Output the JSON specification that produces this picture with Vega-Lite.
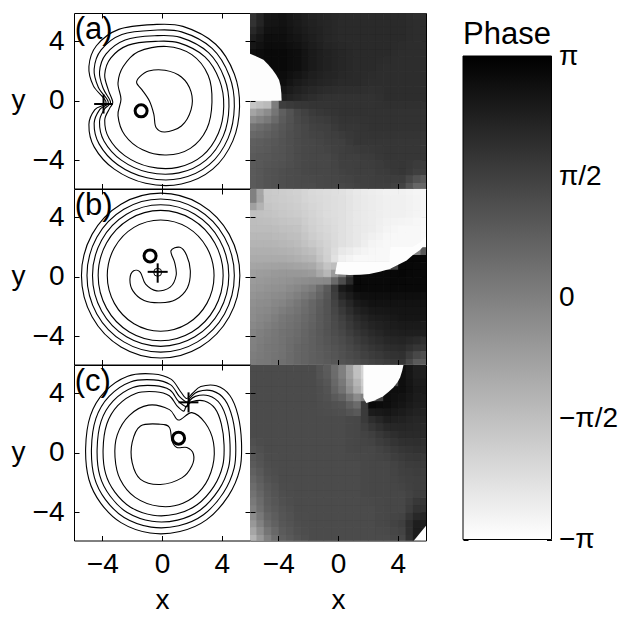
{
"$schema":"https://vega.github.io/schema/vega-lite/v6.json",
"background":"white",
"padding":{"left":10,"top":12,"right":0,"bottom":0},
"config":{
 "font":"Liberation Sans",
 "view":{"stroke":"black","strokeWidth":1},
 "axis":{"grid":false,"domain":false,"ticks":true,"tickColor":"black","tickSize":-5,"tickWidth":1,"labelFontSize":28,"labelColor":"black","labelPadding":15,"titleFontSize":28,"titleFontWeight":"normal","titleColor":"black","titlePadding":8}
},
"datasets":{
"ha":[
{"x":-6,"y":5,"v":1.9},{"x":-5,"y":5,"v":2.6},{"x":-4,"y":5,"v":2.7},{"x":-3,"y":5,"v":2.5},{"x":-2,"y":5,"v":2.3},{"x":-1,"y":5,"v":2.2},{"x":0,"y":5,"v":2.1},{"x":1,"y":5,"v":2.1},{"x":2,"y":5,"v":2.1},{"x":3,"y":5,"v":2.1},{"x":4,"y":5,"v":2.1},{"x":5,"y":5,"v":2.0},
{"x":-6,"y":4,"v":2.4},{"x":-5,"y":4,"v":2.8},{"x":-4,"y":4,"v":2.8},{"x":-3,"y":4,"v":2.6},{"x":-2,"y":4,"v":2.4},{"x":-1,"y":4,"v":2.2},{"x":0,"y":4,"v":2.1},{"x":1,"y":4,"v":2.1},{"x":2,"y":4,"v":2.1},{"x":3,"y":4,"v":2.1},{"x":4,"y":4,"v":2.1},{"x":5,"y":4,"v":2.0},
{"x":-6,"y":3,"v":2.8},{"x":-5,"y":3,"v":2.9},{"x":-4,"y":3,"v":2.9},{"x":-3,"y":3,"v":2.8},{"x":-2,"y":3,"v":2.5},{"x":-1,"y":3,"v":2.3},{"x":0,"y":3,"v":2.2},{"x":1,"y":3,"v":2.1},{"x":2,"y":3,"v":2.1},{"x":3,"y":3,"v":2.1},{"x":4,"y":3,"v":2.0},{"x":5,"y":3,"v":2.0},
{"x":-6,"y":2,"v":2.9},{"x":-5,"y":2,"v":2.9},{"x":-4,"y":2,"v":2.9},{"x":-3,"y":2,"v":2.8},{"x":-2,"y":2,"v":2.5},{"x":-1,"y":2,"v":2.3},{"x":0,"y":2,"v":2.2},{"x":1,"y":2,"v":2.1},{"x":2,"y":2,"v":2.1},{"x":3,"y":2,"v":2.0},{"x":4,"y":2,"v":2.0},{"x":5,"y":2,"v":2.0},
{"x":-6,"y":1,"v":-3.0},{"x":-5,"y":1,"v":2.8},{"x":-4,"y":1,"v":2.8},{"x":-3,"y":1,"v":2.5},{"x":-2,"y":1,"v":2.3},{"x":-1,"y":1,"v":2.2},{"x":0,"y":1,"v":2.1},{"x":1,"y":1,"v":2.1},{"x":2,"y":1,"v":2.0},{"x":3,"y":1,"v":2.0},{"x":4,"y":1,"v":2.0},{"x":5,"y":1,"v":2.0},
{"x":-6,"y":0,"v":-2.6},{"x":-5,"y":0,"v":-2.6},{"x":-4,"y":0,"v":2.4},{"x":-3,"y":0,"v":2.2},{"x":-2,"y":0,"v":2.0},{"x":-1,"y":0,"v":1.9},{"x":0,"y":0,"v":1.9},{"x":1,"y":0,"v":1.9},{"x":2,"y":0,"v":1.9},{"x":3,"y":0,"v":2.0},{"x":4,"y":0,"v":2.0},{"x":5,"y":0,"v":2.0},
{"x":-6,"y":-1,"v":-0.9},{"x":-5,"y":-1,"v":-0.3},{"x":-4,"y":-1,"v":0.8},{"x":-3,"y":-1,"v":1.4},{"x":-2,"y":-1,"v":1.7},{"x":-1,"y":-1,"v":1.8},{"x":0,"y":-1,"v":1.9},{"x":1,"y":-1,"v":1.9},{"x":2,"y":-1,"v":1.9},{"x":3,"y":-1,"v":1.9},{"x":4,"y":-1,"v":1.9},{"x":5,"y":-1,"v":1.9},
{"x":-6,"y":-2,"v":0.3},{"x":-5,"y":-2,"v":0.6},{"x":-4,"y":-2,"v":1.0},{"x":-3,"y":-2,"v":1.3},{"x":-2,"y":-2,"v":1.5},{"x":-1,"y":-2,"v":1.6},{"x":0,"y":-2,"v":1.8},{"x":1,"y":-2,"v":1.8},{"x":2,"y":-2,"v":1.9},{"x":3,"y":-2,"v":1.9},{"x":4,"y":-2,"v":1.9},{"x":5,"y":-2,"v":1.9},
{"x":-6,"y":-3,"v":0.8},{"x":-5,"y":-3,"v":0.9},{"x":-4,"y":-3,"v":1.1},{"x":-3,"y":-3,"v":1.3},{"x":-2,"y":-3,"v":1.4},{"x":-1,"y":-3,"v":1.5},{"x":0,"y":-3,"v":1.6},{"x":1,"y":-3,"v":1.8},{"x":2,"y":-3,"v":1.8},{"x":3,"y":-3,"v":1.8},{"x":4,"y":-3,"v":1.8},{"x":5,"y":-3,"v":1.8},
{"x":-6,"y":-4,"v":0.9},{"x":-5,"y":-4,"v":1.0},{"x":-4,"y":-4,"v":1.1},{"x":-3,"y":-4,"v":1.3},{"x":-2,"y":-4,"v":1.4},{"x":-1,"y":-4,"v":1.4},{"x":0,"y":-4,"v":1.6},{"x":1,"y":-4,"v":1.6},{"x":2,"y":-4,"v":1.7},{"x":3,"y":-4,"v":1.8},{"x":4,"y":-4,"v":1.8},{"x":5,"y":-4,"v":1.8},
{"x":-6,"y":-5,"v":0.9},{"x":-5,"y":-5,"v":1.1},{"x":-4,"y":-5,"v":1.2},{"x":-3,"y":-5,"v":1.3},{"x":-2,"y":-5,"v":1.4},{"x":-1,"y":-5,"v":1.4},{"x":0,"y":-5,"v":1.5},{"x":1,"y":-5,"v":1.6},{"x":2,"y":-5,"v":1.6},{"x":3,"y":-5,"v":1.7},{"x":4,"y":-5,"v":1.8},{"x":5,"y":-5,"v":1.6},
{"x":-6,"y":-6,"v":0.9},{"x":-5,"y":-6,"v":1.1},{"x":-4,"y":-6,"v":1.2},{"x":-3,"y":-6,"v":1.3},{"x":-2,"y":-6,"v":1.3},{"x":-1,"y":-6,"v":1.4},{"x":0,"y":-6,"v":1.4},{"x":1,"y":-6,"v":1.5},{"x":2,"y":-6,"v":1.6},{"x":3,"y":-6,"v":1.6},{"x":4,"y":-6,"v":1.5},{"x":5,"y":-6,"v":0.6}
],
"hb":[
{"x":-6,"y":5,"v":0.0},{"x":-5,"y":5,"v":-1.8},{"x":-4,"y":5,"v":-1.9},{"x":-3,"y":5,"v":-2.0},{"x":-2,"y":5,"v":-2.2},{"x":-1,"y":5,"v":-2.3},{"x":0,"y":5,"v":-2.4},{"x":1,"y":5,"v":-2.6},{"x":2,"y":5,"v":-2.7},{"x":3,"y":5,"v":-2.8},{"x":4,"y":5,"v":-2.8},{"x":5,"y":5,"v":-2.9},
{"x":-6,"y":4,"v":-1.6},{"x":-5,"y":4,"v":-1.7},{"x":-4,"y":4,"v":-1.8},{"x":-3,"y":4,"v":-1.9},{"x":-2,"y":4,"v":-2.1},{"x":-1,"y":4,"v":-2.3},{"x":0,"y":4,"v":-2.4},{"x":1,"y":4,"v":-2.6},{"x":2,"y":4,"v":-2.7},{"x":3,"y":4,"v":-2.8},{"x":4,"y":4,"v":-2.8},{"x":5,"y":4,"v":-2.9},
{"x":-6,"y":3,"v":-1.5},{"x":-5,"y":3,"v":-1.5},{"x":-4,"y":3,"v":-1.6},{"x":-3,"y":3,"v":-1.7},{"x":-2,"y":3,"v":-2.0},{"x":-1,"y":3,"v":-2.2},{"x":0,"y":3,"v":-2.4},{"x":1,"y":3,"v":-2.6},{"x":2,"y":3,"v":-2.7},{"x":3,"y":3,"v":-2.9},{"x":4,"y":3,"v":-3.0},{"x":5,"y":3,"v":-3.0},
{"x":-6,"y":2,"v":-1.3},{"x":-5,"y":2,"v":-1.3},{"x":-4,"y":2,"v":-1.4},{"x":-3,"y":2,"v":-1.5},{"x":-2,"y":2,"v":-1.8},{"x":-1,"y":2,"v":-2.1},{"x":0,"y":2,"v":-2.4},{"x":1,"y":2,"v":-2.6},{"x":2,"y":2,"v":-2.9},{"x":3,"y":2,"v":-3.0},{"x":4,"y":2,"v":-3.0},{"x":5,"y":2,"v":-3.0},
{"x":-6,"y":1,"v":-1.1},{"x":-5,"y":1,"v":-1.1},{"x":-4,"y":1,"v":-1.1},{"x":-3,"y":1,"v":-1.2},{"x":-2,"y":1,"v":-1.4},{"x":-1,"y":1,"v":-2.0},{"x":0,"y":1,"v":-2.8},{"x":1,"y":1,"v":-3.0},{"x":2,"y":1,"v":-3.0},{"x":3,"y":1,"v":-3.0},{"x":4,"y":1,"v":3.0},{"x":5,"y":1,"v":3.0},
{"x":-6,"y":0,"v":-0.8},{"x":-5,"y":0,"v":-0.7},{"x":-4,"y":0,"v":-0.6},{"x":-3,"y":0,"v":-0.6},{"x":-2,"y":0,"v":-0.7},{"x":-1,"y":0,"v":-1.4},{"x":0,"y":0,"v":0.0},{"x":1,"y":0,"v":3.0},{"x":2,"y":0,"v":2.9},{"x":3,"y":0,"v":2.9},{"x":4,"y":0,"v":3.0},{"x":5,"y":0,"v":2.9},
{"x":-6,"y":-1,"v":-0.6},{"x":-5,"y":-1,"v":-0.5},{"x":-4,"y":-1,"v":-0.4},{"x":-3,"y":-1,"v":-0.2},{"x":-2,"y":-1,"v":0.1},{"x":-1,"y":-1,"v":0.9},{"x":0,"y":-1,"v":2.5},{"x":1,"y":-1,"v":2.9},{"x":2,"y":-1,"v":2.9},{"x":3,"y":-1,"v":2.9},{"x":4,"y":-1,"v":2.9},{"x":5,"y":-1,"v":2.9},
{"x":-6,"y":-2,"v":-0.4},{"x":-5,"y":-2,"v":-0.3},{"x":-4,"y":-2,"v":-0.1},{"x":-3,"y":-2,"v":0.2},{"x":-2,"y":-2,"v":0.6},{"x":-1,"y":-2,"v":1.1},{"x":0,"y":-2,"v":1.9},{"x":1,"y":-2,"v":2.5},{"x":2,"y":-2,"v":2.7},{"x":3,"y":-2,"v":2.7},{"x":4,"y":-2,"v":2.7},{"x":5,"y":-2,"v":2.7},
{"x":-6,"y":-3,"v":-0.3},{"x":-5,"y":-3,"v":-0.1},{"x":-4,"y":-3,"v":0.2},{"x":-3,"y":-3,"v":0.4},{"x":-2,"y":-3,"v":0.7},{"x":-1,"y":-3,"v":1.1},{"x":0,"y":-3,"v":1.6},{"x":1,"y":-3,"v":2.1},{"x":2,"y":-3,"v":2.4},{"x":3,"y":-3,"v":2.5},{"x":4,"y":-3,"v":2.6},{"x":5,"y":-3,"v":2.6},
{"x":-6,"y":-4,"v":-0.1},{"x":-5,"y":-4,"v":0.1},{"x":-4,"y":-4,"v":0.3},{"x":-3,"y":-4,"v":0.5},{"x":-2,"y":-4,"v":0.8},{"x":-1,"y":-4,"v":1.1},{"x":0,"y":-4,"v":1.4},{"x":1,"y":-4,"v":1.8},{"x":2,"y":-4,"v":2.1},{"x":3,"y":-4,"v":2.3},{"x":4,"y":-4,"v":2.4},{"x":5,"y":-4,"v":2.4},
{"x":-6,"y":-5,"v":0.0},{"x":-5,"y":-5,"v":0.2},{"x":-4,"y":-5,"v":0.3},{"x":-3,"y":-5,"v":0.6},{"x":-2,"y":-5,"v":0.8},{"x":-1,"y":-5,"v":1.0},{"x":0,"y":-5,"v":1.2},{"x":1,"y":-5,"v":1.5},{"x":2,"y":-5,"v":1.8},{"x":3,"y":-5,"v":2.0},{"x":4,"y":-5,"v":2.1},{"x":5,"y":-5,"v":1.8},
{"x":-6,"y":-6,"v":0.1},{"x":-5,"y":-6,"v":0.2},{"x":-4,"y":-6,"v":0.4},{"x":-3,"y":-6,"v":0.6},{"x":-2,"y":-6,"v":0.8},{"x":-1,"y":-6,"v":0.9},{"x":0,"y":-6,"v":1.1},{"x":1,"y":-6,"v":1.3},{"x":2,"y":-6,"v":1.5},{"x":3,"y":-6,"v":1.7},{"x":4,"y":-6,"v":1.8},{"x":5,"y":-6,"v":0.9}
],
"hc":[
{"x":-6,"y":5,"v":1.3},{"x":-5,"y":5,"v":1.3},{"x":-4,"y":5,"v":1.3},{"x":-3,"y":5,"v":1.3},{"x":-2,"y":5,"v":1.3},{"x":-1,"y":5,"v":0.9},{"x":0,"y":5,"v":0.0},{"x":1,"y":5,"v":-1.6},{"x":2,"y":5,"v":-2.6},{"x":3,"y":5,"v":-3.0},{"x":4,"y":5,"v":2.8},{"x":5,"y":5,"v":2.4},
{"x":-6,"y":4,"v":1.3},{"x":-5,"y":4,"v":1.3},{"x":-4,"y":4,"v":1.3},{"x":-3,"y":4,"v":1.3},{"x":-2,"y":4,"v":1.3},{"x":-1,"y":4,"v":1.1},{"x":0,"y":4,"v":0.3},{"x":1,"y":4,"v":-1.1},{"x":2,"y":4,"v":-2.4},{"x":3,"y":4,"v":2.8},{"x":4,"y":4,"v":2.8},{"x":5,"y":4,"v":2.5},
{"x":-6,"y":3,"v":1.3},{"x":-5,"y":3,"v":1.3},{"x":-4,"y":3,"v":1.3},{"x":-3,"y":3,"v":1.3},{"x":-2,"y":3,"v":1.3},{"x":-1,"y":3,"v":1.2},{"x":0,"y":3,"v":1.1},{"x":1,"y":3,"v":0.5},{"x":2,"y":3,"v":2.9},{"x":3,"y":3,"v":2.8},{"x":4,"y":3,"v":2.6},{"x":5,"y":3,"v":2.4},
{"x":-6,"y":2,"v":1.3},{"x":-5,"y":2,"v":1.3},{"x":-4,"y":2,"v":1.3},{"x":-3,"y":2,"v":1.3},{"x":-2,"y":2,"v":1.3},{"x":-1,"y":2,"v":1.3},{"x":0,"y":2,"v":1.3},{"x":1,"y":2,"v":1.4},{"x":2,"y":2,"v":2.0},{"x":3,"y":2,"v":2.4},{"x":4,"y":2,"v":2.3},{"x":5,"y":2,"v":2.2},
{"x":-6,"y":1,"v":1.3},{"x":-5,"y":1,"v":1.3},{"x":-4,"y":1,"v":1.3},{"x":-3,"y":1,"v":1.3},{"x":-2,"y":1,"v":1.3},{"x":-1,"y":1,"v":1.3},{"x":0,"y":1,"v":1.3},{"x":1,"y":1,"v":1.4},{"x":2,"y":1,"v":1.6},{"x":3,"y":1,"v":1.9},{"x":4,"y":1,"v":2.1},{"x":5,"y":1,"v":2.1},
{"x":-6,"y":0,"v":1.1},{"x":-5,"y":0,"v":1.3},{"x":-4,"y":0,"v":1.3},{"x":-3,"y":0,"v":1.3},{"x":-2,"y":0,"v":1.3},{"x":-1,"y":0,"v":1.3},{"x":0,"y":0,"v":1.3},{"x":1,"y":0,"v":1.4},{"x":2,"y":0,"v":1.4},{"x":3,"y":0,"v":1.6},{"x":4,"y":0,"v":1.8},{"x":5,"y":0,"v":1.9},
{"x":-6,"y":-1,"v":0.9},{"x":-5,"y":-1,"v":1.2},{"x":-4,"y":-1,"v":1.3},{"x":-3,"y":-1,"v":1.3},{"x":-2,"y":-1,"v":1.3},{"x":-1,"y":-1,"v":1.3},{"x":0,"y":-1,"v":1.3},{"x":1,"y":-1,"v":1.3},{"x":2,"y":-1,"v":1.4},{"x":3,"y":-1,"v":1.4},{"x":4,"y":-1,"v":1.6},{"x":5,"y":-1,"v":1.7},
{"x":-6,"y":-2,"v":0.6},{"x":-5,"y":-2,"v":1.1},{"x":-4,"y":-2,"v":1.3},{"x":-3,"y":-2,"v":1.3},{"x":-2,"y":-2,"v":1.3},{"x":-1,"y":-2,"v":1.3},{"x":0,"y":-2,"v":1.3},{"x":1,"y":-2,"v":1.3},{"x":2,"y":-2,"v":1.4},{"x":3,"y":-2,"v":1.4},{"x":4,"y":-2,"v":1.5},{"x":5,"y":-2,"v":1.6},
{"x":-6,"y":-3,"v":0.3},{"x":-5,"y":-3,"v":0.9},{"x":-4,"y":-3,"v":1.2},{"x":-3,"y":-3,"v":1.3},{"x":-2,"y":-3,"v":1.3},{"x":-1,"y":-3,"v":1.3},{"x":0,"y":-3,"v":1.3},{"x":1,"y":-3,"v":1.3},{"x":2,"y":-3,"v":1.4},{"x":3,"y":-3,"v":1.4},{"x":4,"y":-3,"v":1.4},{"x":5,"y":-3,"v":1.6},
{"x":-6,"y":-4,"v":0.0},{"x":-5,"y":-4,"v":0.8},{"x":-4,"y":-4,"v":1.1},{"x":-3,"y":-4,"v":1.3},{"x":-2,"y":-4,"v":1.3},{"x":-1,"y":-4,"v":1.3},{"x":0,"y":-4,"v":1.3},{"x":1,"y":-4,"v":1.3},{"x":2,"y":-4,"v":1.3},{"x":3,"y":-4,"v":1.4},{"x":4,"y":-4,"v":1.4},{"x":5,"y":-4,"v":1.9},
{"x":-6,"y":-5,"v":-0.6},{"x":-5,"y":-5,"v":0.5},{"x":-4,"y":-5,"v":1.0},{"x":-3,"y":-5,"v":1.2},{"x":-2,"y":-5,"v":1.3},{"x":-1,"y":-5,"v":1.3},{"x":0,"y":-5,"v":1.3},{"x":1,"y":-5,"v":1.3},{"x":2,"y":-5,"v":1.3},{"x":3,"y":-5,"v":1.4},{"x":4,"y":-5,"v":1.6},{"x":5,"y":-5,"v":2.4},
{"x":-6,"y":-6,"v":-1.3},{"x":-5,"y":-6,"v":0.0},{"x":-4,"y":-6,"v":0.8},{"x":-3,"y":-6,"v":1.1},{"x":-2,"y":-6,"v":1.3},{"x":-1,"y":-6,"v":1.3},{"x":0,"y":-6,"v":1.3},{"x":1,"y":-6,"v":1.3},{"x":2,"y":-6,"v":1.3},{"x":3,"y":-6,"v":1.3},{"x":4,"y":-6,"v":1.4},{"x":5,"y":-6,"v":2.5}
],
"pa":[
{"s":1,"x":-6,"y":3.2,"y2":0,"v":-3.1},{"s":1,"x":-5.5,"y":3.0,"y2":0,"v":-3.1},{"s":1,"x":-5.0,"y":2.75,"y2":0,"v":-3.1},{"s":1,"x":-4.7,"y":2.45,"y2":0,"v":-3.1},{"s":1,"x":-4.4,"y":2.1,"y2":0,"v":-3.1},{"s":1,"x":-4.15,"y":1.75,"y2":0,"v":-3.1},{"s":1,"x":-3.95,"y":1.4,"y2":0,"v":-3.1},{"s":1,"x":-3.85,"y":1.0,"y2":0,"v":-3.1},{"s":1,"x":-3.8,"y":0.5,"y2":0,"v":-3.1},{"s":1,"x":-3.78,"y":0.0,"y2":0,"v":-3.1}
],
"pb":[
{"s":1,"x":-0.2,"y":0.2,"y2":0.2,"v":-3.1},{"s":1,"x":-0.05,"y":1.0,"y2":0.17,"v":-3.1},{"s":1,"x":0.75,"y":1.0,"y2":0.11,"v":-3.1},{"s":1,"x":1.5,"y":1.0,"y2":0.13,"v":-3.1},{"s":1,"x":2.1,"y":1.0,"y2":0.18,"v":-3.1},{"s":1,"x":2.8,"y":1.0,"y2":0.33,"v":-3.1},{"s":1,"x":3.45,"y":1.0,"y2":0.52,"v":-3.1},{"s":1,"x":3.5,"y":2.0,"y2":0.53,"v":-3.1},{"s":1,"x":4.0,"y":2.0,"y2":0.79,"v":-3.1},{"s":1,"x":4.6,"y":2.0,"y2":1.1,"v":-3.1},{"s":1,"x":5.0,"y":2.0,"y2":1.45,"v":-3.1},{"s":1,"x":5.5,"y":2.3,"y2":1.8,"v":-3.1},{"s":1,"x":6.0,"y":2.8,"y2":2.37,"v":-3.1}
],
"pc":[
{"s":1,"x":1.7,"y":5.95,"y2":3.7,"v":-3.1},{"s":1,"x":1.9,"y":5.95,"y2":3.35,"v":-3.1},{"s":1,"x":2.4,"y":5.95,"y2":3.5,"v":-3.1},{"s":1,"x":3.03,"y":5.95,"y2":3.8,"v":-3.1},{"s":1,"x":3.4,"y":5.95,"y2":4.1,"v":-3.1},{"s":1,"x":3.71,"y":5.95,"y2":4.38,"v":-3.1},{"s":1,"x":4.0,"y":5.95,"y2":4.75,"v":-3.1},{"s":1,"x":4.17,"y":5.95,"y2":5.07,"v":-3.1},{"s":1,"x":4.3,"y":5.95,"y2":5.5,"v":-3.1},{"s":1,"x":4.4,"y":5.95,"y2":5.95,"v":-3.1},
{"s":2,"x":5.05,"y":-5.95,"y2":-5.95,"v":-3.1},{"s":2,"x":5.95,"y":-4.85,"y2":-5.95,"v":-3.1}
],
"ca":[
{"k":1,"x":-3.75,"y":-0.1},{"k":1,"x":-4.6,"y":1.0},{"k":1,"x":-4.9,"y":2.3},{"k":1,"x":-4.4,"y":3.7},{"k":1,"x":-2.9,"y":4.8},{"k":1,"x":-0.6,"y":5.12},{"k":1,"x":1.4,"y":5.0},{"k":1,"x":3.6,"y":3.8},{"k":1,"x":4.85,"y":1.8},{"k":1,"x":5.2,"y":-0.4},{"k":1,"x":4.75,"y":-2.7},{"k":1,"x":3.4,"y":-4.6},{"k":1,"x":1.3,"y":-5.6},{"k":1,"x":-1.1,"y":-5.55},{"k":1,"x":-3.2,"y":-4.6},{"k":1,"x":-4.55,"y":-3.1},{"k":1,"x":-4.9,"y":-1.6},{"k":1,"x":-4.5,"y":-0.6},
{"k":2,"x":-3.6,"y":-0.1},{"k":2,"x":-4.27,"y":0.91},{"k":2,"x":-4.55,"y":2.12},{"k":2,"x":-4.08,"y":3.42},{"k":2,"x":-2.69,"y":4.45},{"k":2,"x":-0.55,"y":4.74},{"k":2,"x":1.31,"y":4.63},{"k":2,"x":3.36,"y":3.52},{"k":2,"x":4.52,"y":1.66},{"k":2,"x":4.85,"y":-0.39},{"k":2,"x":4.43,"y":-2.53},{"k":2,"x":3.17,"y":-4.3},{"k":2,"x":1.22,"y":-5.23},{"k":2,"x":-1.01,"y":-5.18},{"k":2,"x":-2.97,"y":-4.3},{"k":2,"x":-4.22,"y":-2.9},{"k":2,"x":-4.55,"y":-1.51},{"k":2,"x":-4.17,"y":-0.58},
{"k":3,"x":-3.45,"y":-0.1},{"k":3,"x":-3.94,"y":0.82},{"k":3,"x":-4.19,"y":1.94},{"k":3,"x":-3.76,"y":3.14},{"k":3,"x":-2.47,"y":4.09},{"k":3,"x":-0.5,"y":4.37},{"k":3,"x":1.23,"y":4.26},{"k":3,"x":3.12,"y":3.23},{"k":3,"x":4.19,"y":1.51},{"k":3,"x":4.49,"y":-0.38},{"k":3,"x":4.11,"y":-2.36},{"k":3,"x":2.95,"y":-3.99},{"k":3,"x":1.14,"y":-4.85},{"k":3,"x":-0.93,"y":-4.81},{"k":3,"x":-2.73,"y":-3.99},{"k":3,"x":-3.89,"y":-2.7},{"k":3,"x":-4.19,"y":-1.41},{"k":3,"x":-3.85,"y":-0.55},
{"k":4,"x":-3.3,"y":-0.1},{"k":4,"x":-3.6,"y":0.73},{"k":4,"x":-3.84,"y":1.76},{"k":4,"x":-3.44,"y":2.87},{"k":4,"x":-2.26,"y":3.74},{"k":4,"x":-0.44,"y":3.99},{"k":4,"x":1.14,"y":3.89},{"k":4,"x":2.88,"y":2.95},{"k":4,"x":3.86,"y":1.37},{"k":4,"x":4.14,"y":-0.37},{"k":4,"x":3.78,"y":-2.19},{"k":4,"x":2.72,"y":-3.69},{"k":4,"x":1.06,"y":-4.48},{"k":4,"x":-0.84,"y":-4.44},{"k":4,"x":-2.5,"y":-3.69},{"k":4,"x":-3.56,"y":-2.51},{"k":4,"x":-3.84,"y":-1.32},{"k":4,"x":-3.52,"y":-0.53},
{"k":5,"x":-2.75,"y":0.1},{"k":5,"x":-2.95,"y":1.2},{"k":5,"x":-2.6,"y":2.3},{"k":5,"x":-1.6,"y":3.3},{"k":5,"x":0.3,"y":3.65},{"k":5,"x":2.0,"y":3.1},{"k":5,"x":3.1,"y":1.7},{"k":5,"x":3.35,"y":-0.1},{"k":5,"x":3.0,"y":-1.9},{"k":5,"x":1.9,"y":-3.2},{"k":5,"x":0.3,"y":-3.65},{"k":5,"x":-1.3,"y":-3.3},{"k":5,"x":-2.5,"y":-2.3},{"k":5,"x":-2.95,"y":-1.0},
{"k":6,"x":-1.5,"y":1.6},{"k":6,"x":-0.9,"y":2.0},{"k":6,"x":0.2,"y":2.05},{"k":6,"x":1.3,"y":1.6},{"k":6,"x":1.95,"y":0.6},{"k":6,"x":1.95,"y":-0.6},{"k":6,"x":1.3,"y":-1.7},{"k":6,"x":0.2,"y":-2.1},{"k":6,"x":-0.4,"y":-1.8},{"k":6,"x":-0.55,"y":-0.9},{"k":6,"x":-0.85,"y":0.0},{"k":6,"x":-1.35,"y":0.75},{"k":6,"x":-1.7,"y":1.2}
],
"cb":[
{"k":1,"x":5.22,"y":0.08},{"k":1,"x":4.51,"y":2.85},{"k":1,"x":2.57,"y":4.88},{"k":1,"x":-0.09,"y":5.62},{"k":1,"x":-2.75,"y":4.88},{"k":1,"x":-4.69,"y":2.85},{"k":1,"x":-5.4,"y":0.08},{"k":1,"x":-4.69,"y":-2.69},{"k":1,"x":-2.75,"y":-4.72},{"k":1,"x":-0.09,"y":-5.46},{"k":1,"x":2.57,"y":-4.72},{"k":1,"x":4.51,"y":-2.69},
{"k":2,"x":4.85,"y":0.08},{"k":2,"x":4.19,"y":2.66},{"k":2,"x":2.38,"y":4.54},{"k":2,"x":-0.09,"y":5.23},{"k":2,"x":-2.56,"y":4.54},{"k":2,"x":-4.37,"y":2.66},{"k":2,"x":-5.03,"y":0.08},{"k":2,"x":-4.37,"y":-2.5},{"k":2,"x":-2.56,"y":-4.38},{"k":2,"x":-0.09,"y":-5.07},{"k":2,"x":2.38,"y":-4.38},{"k":2,"x":4.19,"y":-2.5},
{"k":3,"x":4.48,"y":0.08},{"k":3,"x":3.87,"y":2.46},{"k":3,"x":2.2,"y":4.2},{"k":3,"x":-0.09,"y":4.84},{"k":3,"x":-2.38,"y":4.2},{"k":3,"x":-4.05,"y":2.46},{"k":3,"x":-4.66,"y":0.08},{"k":3,"x":-4.05,"y":-2.3},{"k":3,"x":-2.38,"y":-4.04},{"k":3,"x":-0.09,"y":-4.68},{"k":3,"x":2.2,"y":-4.04},{"k":3,"x":3.87,"y":-2.3},
{"k":4,"x":4.1,"y":0.08},{"k":4,"x":3.54,"y":2.27},{"k":4,"x":2.01,"y":3.87},{"k":4,"x":-0.09,"y":4.46},{"k":4,"x":-2.19,"y":3.87},{"k":4,"x":-3.72,"y":2.27},{"k":4,"x":-4.28,"y":0.08},{"k":4,"x":-3.72,"y":-2.11},{"k":4,"x":-2.19,"y":-3.71},{"k":4,"x":-0.09,"y":-4.3},{"k":4,"x":2.01,"y":-3.71},{"k":4,"x":3.54,"y":-2.11},
{"k":5,"x":3.49,"y":0.08},{"k":5,"x":3.01,"y":1.95},{"k":5,"x":1.7,"y":3.32},{"k":5,"x":-0.09,"y":3.82},{"k":5,"x":-1.88,"y":3.32},{"k":5,"x":-3.19,"y":1.95},{"k":5,"x":-3.67,"y":0.08},{"k":5,"x":-3.19,"y":-1.79},{"k":5,"x":-1.88,"y":-3.16},{"k":5,"x":-0.09,"y":-3.66},{"k":5,"x":1.7,"y":-3.16},{"k":5,"x":3.01,"y":-1.79},
{"k":6,"x":0.6,"y":1.75},{"k":6,"x":1.2,"y":1.98},{"k":6,"x":1.65,"y":1.45},{"k":6,"x":1.9,"y":0.4},{"k":6,"x":1.7,"y":-0.75},{"k":6,"x":0.9,"y":-1.55},{"k":6,"x":-0.1,"y":-1.75},{"k":6,"x":-1.2,"y":-1.6},{"k":6,"x":-1.95,"y":-0.95},{"k":6,"x":-2.15,"y":-0.15},{"k":6,"x":-1.9,"y":0.4},{"k":6,"x":-1.45,"y":0.3},{"k":6,"x":-1.1,"y":-0.5},{"k":6,"x":-0.35,"y":-0.95},{"k":6,"x":0.55,"y":-0.7},{"k":6,"x":0.95,"y":0.1},{"k":6,"x":0.85,"y":0.95}
],
"cc":[
{"k":1,"x":1.65,"y":3.65},{"k":1,"x":1.25,"y":4.1},{"k":1,"x":0.6,"y":4.95},{"k":1,"x":-0.6,"y":5.3},{"k":1,"x":-2.3,"y":5.15},{"k":1,"x":-3.85,"y":4.1},{"k":1,"x":-4.8,"y":2.5},{"k":1,"x":-5.12,"y":0.3},{"k":1,"x":-4.9,"y":-1.8},{"k":1,"x":-4.1,"y":-3.4},{"k":1,"x":-2.75,"y":-4.7},{"k":1,"x":-0.8,"y":-5.4},{"k":1,"x":1.2,"y":-5.3},{"k":1,"x":3.0,"y":-4.5},{"k":1,"x":4.45,"y":-2.9},{"k":1,"x":5.22,"y":-1.1},{"k":1,"x":5.33,"y":0.7},{"k":1,"x":5.1,"y":2.5},{"k":1,"x":4.55,"y":3.85},{"k":1,"x":3.65,"y":4.5},{"k":1,"x":2.6,"y":4.45},{"k":1,"x":2.05,"y":4.0},
{"k":2,"x":1.7,"y":3.4},{"k":2,"x":1.16,"y":3.79},{"k":2,"x":0.56,"y":4.58},{"k":2,"x":-0.55,"y":4.9},{"k":2,"x":-2.12,"y":4.76},{"k":2,"x":-3.55,"y":3.79},{"k":2,"x":-4.43,"y":2.31},{"k":2,"x":-4.73,"y":0.27},{"k":2,"x":-4.53,"y":-1.67},{"k":2,"x":-3.79,"y":-3.15},{"k":2,"x":-2.54,"y":-4.35},{"k":2,"x":-0.73,"y":-5.0},{"k":2,"x":1.12,"y":-4.91},{"k":2,"x":2.78,"y":-4.17},{"k":2,"x":4.12,"y":-2.69},{"k":2,"x":4.84,"y":-1.02},{"k":2,"x":4.94,"y":0.64},{"k":2,"x":4.73,"y":2.31},{"k":2,"x":4.22,"y":3.56},{"k":2,"x":3.38,"y":4.16},{"k":2,"x":2.41,"y":4.11},{"k":2,"x":1.9,"y":3.7},
{"k":3,"x":1.65,"y":3.1},{"k":3,"x":1.08,"y":3.49},{"k":3,"x":0.53,"y":4.22},{"k":3,"x":-0.5,"y":4.51},{"k":3,"x":-1.95,"y":4.39},{"k":3,"x":-3.27,"y":3.49},{"k":3,"x":-4.08,"y":2.13},{"k":3,"x":-4.35,"y":0.25},{"k":3,"x":-4.17,"y":-1.54},{"k":3,"x":-3.48,"y":-2.91},{"k":3,"x":-2.33,"y":-4.02},{"k":3,"x":-0.67,"y":-4.61},{"k":3,"x":1.04,"y":-4.53},{"k":3,"x":2.57,"y":-3.85},{"k":3,"x":3.81,"y":-2.48},{"k":3,"x":4.47,"y":-0.95},{"k":3,"x":4.56,"y":0.59},{"k":3,"x":4.37,"y":2.13},{"k":3,"x":3.9,"y":3.28},{"k":3,"x":3.13,"y":3.83},{"k":3,"x":2.23,"y":3.79},{"k":3,"x":1.76,"y":3.4},
{"k":4,"x":1.45,"y":2.8},{"k":4,"x":0.99,"y":3.17},{"k":4,"x":0.49,"y":3.83},{"k":4,"x":-0.44,"y":4.1},{"k":4,"x":-1.76,"y":3.99},{"k":4,"x":-2.97,"y":3.17},{"k":4,"x":-3.7,"y":1.93},{"k":4,"x":-3.95,"y":0.22},{"k":4,"x":-3.78,"y":-1.41},{"k":4,"x":-3.16,"y":-2.65},{"k":4,"x":-2.11,"y":-3.66},{"k":4,"x":-0.6,"y":-4.2},{"k":4,"x":0.95,"y":-4.12},{"k":4,"x":2.35,"y":-3.5},{"k":4,"x":3.48,"y":-2.26},{"k":4,"x":4.07,"y":-0.86},{"k":4,"x":4.16,"y":0.53},{"k":4,"x":3.98,"y":1.93},{"k":4,"x":3.55,"y":2.98},{"k":4,"x":2.85,"y":3.48},{"k":4,"x":2.04,"y":3.44},{"k":4,"x":1.61,"y":3.09},
{"k":5,"x":1.1,"y":2.2},{"k":5,"x":0.5,"y":2.9},{"k":5,"x":-0.9,"y":3.2},{"k":5,"x":-2.2,"y":2.5},{"k":5,"x":-3.0,"y":1.2},{"k":5,"x":-3.15,"y":-0.3},{"k":5,"x":-2.8,"y":-1.8},{"k":5,"x":-1.8,"y":-3.0},{"k":5,"x":-0.2,"y":-3.6},{"k":5,"x":1.4,"y":-3.4},{"k":5,"x":2.7,"y":-2.4},{"k":5,"x":3.4,"y":-0.9},{"k":5,"x":3.45,"y":0.7},{"k":5,"x":2.9,"y":2.0},{"k":5,"x":2.0,"y":2.7},
{"k":6,"x":-1.44,"y":1.8},{"k":6,"x":-0.11,"y":1.92},{"k":6,"x":0.5,"y":1.7},{"k":6,"x":0.67,"y":0.8},{"k":6,"x":1.0,"y":0.35},{"k":6,"x":1.67,"y":0.35},{"k":6,"x":2.11,"y":-0.1},{"k":6,"x":2.0,"y":-0.89},{"k":6,"x":1.33,"y":-1.69},{"k":6,"x":-0.11,"y":-2.13},{"k":6,"x":-1.44,"y":-1.79},{"k":6,"x":-2.0,"y":-0.67},{"k":6,"x":-2.0,"y":0.69}
],
"ma":[
{"m":"r","x":-4.55,"y":-0.22,"x2":-3.3,"y2":-0.22},{"m":"r","x":-3.92,"y":0.42,"x2":-3.92,"y2":-0.86},{"m":"o","x":-1.4,"y":-0.68},{"m":"t","x":-5.85,"y":4.15,"t":"(a)"}
],
"mb":[
{"m":"r","x":-0.96,"y":0.33,"x2":0.38,"y2":0.33},{"m":"r","x":-0.29,"y":0.9,"x2":-0.29,"y2":-0.4},{"m":"q","x":-0.29,"y":0.3},{"m":"o","x":-0.8,"y":1.4},{"m":"t","x":-5.85,"y":4.15,"t":"(b)"}
],
"mc":[
{"m":"r","x":1.11,"y":3.39,"x2":2.44,"y2":3.39},{"m":"r","x":1.78,"y":4.06,"x2":1.78,"y2":2.71},{"m":"o","x":1.11,"y":0.98},{"m":"t","x":-5.85,"y":4.15,"t":"(c)"}
]
},
"hconcat":[
{"concat":[
 {"width":176,"height":175.5,
  "layer":[
   {"encoding":{
     "x":{"field":"x","type":"quantitative","scale":{"domain":[-5.9,5.9],"nice":false,"zero":false},"axis":{"values":[-4,0,4],"labels":false,"title":null}},
     "y":{"field":"y","type":"quantitative","scale":{"domain":[-5.9,5.9],"nice":false,"zero":false},"axis":{"values":[-4,0,4],"title":"y","titleAngle":0,"titleAlign":"right","titleBaseline":"middle","titlePadding":7}}},
    "layer":[
     {"data":{"name":"ca"},"mark":{"type":"line","interpolate":"cardinal-closed","color":"black","strokeWidth":1.1},"encoding":{"detail":{"field":"k"},"order":{"value":null}}},
     {"data":{"name":"ma"},"transform":[{"filter":"datum.m=='r'"}],"mark":{"type":"rule","color":"black","strokeWidth":2},"encoding":{"x2":{"field":"x2"},"y2":{"field":"y2"}}},
     {"data":{"name":"ma"},"transform":[{"filter":"datum.m=='o'"}],"mark":{"type":"point","shape":"circle","filled":false,"color":"black","strokeWidth":3,"size":144,"opacity":1}}
    ]},
   {"data":{"name":"ma"},"transform":[{"filter":"datum.m=='t'"}],"mark":{"type":"text","align":"left","baseline":"alphabetic","fontSize":31,"color":"black"},
    "encoding":{"x":{"field":"x","type":"quantitative","scale":{"domain":[-5.9,5.9],"nice":false,"zero":false},"axis":{"orient":"top","values":[-4,0,4],"labels":false,"title":null}},"y":{"field":"y","type":"quantitative","scale":{"domain":[-5.9,5.9],"nice":false,"zero":false},"axis":{"orient":"right","values":[-4,0,4],"labels":false,"title":null}},"text":{"field":"t"}}}
  ],
  "resolve":{"axis":{"x":"independent","y":"independent"}}},
 {"width":176,"height":175.5,
  "layer":[
   {"data":{"name":"ha"},"layer":[
     {"mark":{"type":"rect","binSpacing":0,"clip":true,"strokeWidth":0.6},"encoding":{
       "x":{"field":"x","type":"quantitative","bin":{"step":1,"extent":[-6,6]},"scale":{"domain":[-5.9,5.9],"nice":false,"zero":false},"axis":{"values":[-4,0,4],"labels":false,"title":null}},
       "y":{"field":"y","type":"quantitative","bin":{"step":1,"extent":[-6,6]},"scale":{"domain":[-5.9,5.9],"nice":false,"zero":false},"axis":{"values":[-4,0,4],"labels":false,"title":null}},
       "color":{"field":"v","type":"quantitative","scale":{"domain":[-3.1416,3.1416],"range":["#ffffff","#000000"],"interpolate":"rgb"},"legend":null},
       "stroke":{"field":"v","type":"quantitative","scale":{"domain":[-3.1416,3.1416],"range":["#ffffff","#000000"],"interpolate":"rgb"},"legend":null}}},
     {"mark":{"type":"rect","binSpacing":0,"clip":true,"opacity":0.5},"encoding":{
       "x":{"field":"x","type":"quantitative","bin":{"step":1,"extent":[-6.5,6.5],"nice":false},"axis":{"values":[-4,0,4],"labels":false,"title":null}},
       "y":{"field":"y","type":"quantitative","bin":{"step":1,"extent":[-6,6]},"axis":{"values":[-4,0,4],"labels":false,"title":null}},
       "color":{"field":"v","type":"quantitative","legend":null}}},
     {"mark":{"type":"rect","binSpacing":0,"clip":true,"opacity":0.3333},"encoding":{
       "x":{"field":"x","type":"quantitative","bin":{"step":1,"extent":[-6,6]},"axis":{"values":[-4,0,4],"labels":false,"title":null}},
       "y":{"field":"y","type":"quantitative","bin":{"step":1,"extent":[-6.5,6.5],"nice":false},"axis":{"values":[-4,0,4],"labels":false,"title":null}},
       "color":{"field":"v","type":"quantitative","legend":null}}},
     {"mark":{"type":"rect","binSpacing":0,"clip":true,"opacity":0.25},"encoding":{
       "x":{"field":"x","type":"quantitative","bin":{"step":1,"extent":[-6.5,6.5],"nice":false},"axis":{"values":[-4,0,4],"labels":false,"title":null}},
       "y":{"field":"y","type":"quantitative","bin":{"step":1,"extent":[-6.5,6.5],"nice":false},"axis":{"values":[-4,0,4],"labels":false,"title":null}},
       "color":{"field":"v","type":"quantitative","legend":null}}}
   ]},
   {"data":{"name":"pa"},"mark":{"type":"area","clip":true,"opacity":1},
    "encoding":{"x":{"field":"x","type":"quantitative","axis":{"orient":"top","values":[-4,0,4],"labels":false,"title":null}},"y":{"field":"y","type":"quantitative","axis":{"orient":"right","values":[-4,0,4],"labels":false,"title":null}},"y2":{"field":"y2"},"color":{"field":"v","type":"quantitative"},"detail":{"field":"s"}}}
  ],
  "resolve":{"axis":{"x":"independent","y":"independent"}}},
 {"width":176,"height":175.5,
  "layer":[
   {"encoding":{
     "x":{"field":"x","type":"quantitative","scale":{"domain":[-5.9,5.9],"nice":false,"zero":false},"axis":{"values":[-4,0,4],"labels":false,"title":null}},
     "y":{"field":"y","type":"quantitative","scale":{"domain":[-5.9,5.9],"nice":false,"zero":false},"axis":{"values":[-4,0,4],"title":"y","titleAngle":0,"titleAlign":"right","titleBaseline":"middle","titlePadding":7}}},
    "layer":[
     {"data":{"name":"cb"},"mark":{"type":"line","interpolate":"cardinal-closed","color":"black","strokeWidth":1.1},"encoding":{"detail":{"field":"k"},"order":{"value":null}}},
     {"data":{"name":"mb"},"transform":[{"filter":"datum.m=='r'"}],"mark":{"type":"rule","color":"black","strokeWidth":2},"encoding":{"x2":{"field":"x2"},"y2":{"field":"y2"}}},
     {"data":{"name":"mb"},"transform":[{"filter":"datum.m=='o'"}],"mark":{"type":"point","shape":"circle","filled":false,"color":"black","strokeWidth":3,"size":144,"opacity":1}},
     {"data":{"name":"mb"},"transform":[{"filter":"datum.m=='q'"}],"mark":{"type":"point","shape":"circle","filled":false,"color":"black","strokeWidth":1,"size":64,"opacity":1}}
    ]},
   {"data":{"name":"mb"},"transform":[{"filter":"datum.m=='t'"}],"mark":{"type":"text","align":"left","baseline":"alphabetic","fontSize":31,"color":"black"},
    "encoding":{"x":{"field":"x","type":"quantitative","scale":{"domain":[-5.9,5.9],"nice":false,"zero":false},"axis":{"orient":"top","values":[-4,0,4],"labels":false,"title":null}},"y":{"field":"y","type":"quantitative","scale":{"domain":[-5.9,5.9],"nice":false,"zero":false},"axis":{"orient":"right","values":[-4,0,4],"labels":false,"title":null}},"text":{"field":"t"}}}
  ],
  "resolve":{"axis":{"x":"independent","y":"independent"}}},
 {"width":176,"height":175.5,
  "layer":[
   {"data":{"name":"hb"},"layer":[
     {"mark":{"type":"rect","binSpacing":0,"clip":true,"strokeWidth":0.6},"encoding":{
       "x":{"field":"x","type":"quantitative","bin":{"step":1,"extent":[-6,6]},"scale":{"domain":[-5.9,5.9],"nice":false,"zero":false},"axis":{"values":[-4,0,4],"labels":false,"title":null}},
       "y":{"field":"y","type":"quantitative","bin":{"step":1,"extent":[-6,6]},"scale":{"domain":[-5.9,5.9],"nice":false,"zero":false},"axis":{"values":[-4,0,4],"labels":false,"title":null}},
       "color":{"field":"v","type":"quantitative","scale":{"domain":[-3.1416,3.1416],"range":["#ffffff","#000000"],"interpolate":"rgb"},"legend":null},
       "stroke":{"field":"v","type":"quantitative","scale":{"domain":[-3.1416,3.1416],"range":["#ffffff","#000000"],"interpolate":"rgb"},"legend":null}}},
     {"mark":{"type":"rect","binSpacing":0,"clip":true,"opacity":0.5},"encoding":{
       "x":{"field":"x","type":"quantitative","bin":{"step":1,"extent":[-6.5,6.5],"nice":false},"axis":{"values":[-4,0,4],"labels":false,"title":null}},
       "y":{"field":"y","type":"quantitative","bin":{"step":1,"extent":[-6,6]},"axis":{"values":[-4,0,4],"labels":false,"title":null}},
       "color":{"field":"v","type":"quantitative","legend":null}}},
     {"mark":{"type":"rect","binSpacing":0,"clip":true,"opacity":0.3333},"encoding":{
       "x":{"field":"x","type":"quantitative","bin":{"step":1,"extent":[-6,6]},"axis":{"values":[-4,0,4],"labels":false,"title":null}},
       "y":{"field":"y","type":"quantitative","bin":{"step":1,"extent":[-6.5,6.5],"nice":false},"axis":{"values":[-4,0,4],"labels":false,"title":null}},
       "color":{"field":"v","type":"quantitative","legend":null}}},
     {"mark":{"type":"rect","binSpacing":0,"clip":true,"opacity":0.25},"encoding":{
       "x":{"field":"x","type":"quantitative","bin":{"step":1,"extent":[-6.5,6.5],"nice":false},"axis":{"values":[-4,0,4],"labels":false,"title":null}},
       "y":{"field":"y","type":"quantitative","bin":{"step":1,"extent":[-6.5,6.5],"nice":false},"axis":{"values":[-4,0,4],"labels":false,"title":null}},
       "color":{"field":"v","type":"quantitative","legend":null}}}
   ]},
   {"data":{"name":"pb"},"mark":{"type":"area","clip":true,"opacity":1},
    "encoding":{"x":{"field":"x","type":"quantitative","axis":{"orient":"top","values":[-4,0,4],"labels":false,"title":null}},"y":{"field":"y","type":"quantitative","axis":{"orient":"right","values":[-4,0,4],"labels":false,"title":null}},"y2":{"field":"y2"},"color":{"field":"v","type":"quantitative"},"detail":{"field":"s"}}}
  ],
  "resolve":{"axis":{"x":"independent","y":"independent"}}},
 {"width":176,"height":175.5,
  "layer":[
   {"encoding":{
     "x":{"field":"x","type":"quantitative","scale":{"domain":[-5.9,5.9],"nice":false,"zero":false},"axis":{"values":[-4,0,4],"title":"x"}},
     "y":{"field":"y","type":"quantitative","scale":{"domain":[-5.9,5.9],"nice":false,"zero":false},"axis":{"values":[-4,0,4],"title":"y","titleAngle":0,"titleAlign":"right","titleBaseline":"middle","titlePadding":7}}},
    "layer":[
     {"data":{"name":"cc"},"mark":{"type":"line","interpolate":"cardinal-closed","color":"black","strokeWidth":1.1},"encoding":{"detail":{"field":"k"},"order":{"value":null}}},
     {"data":{"name":"mc"},"transform":[{"filter":"datum.m=='r'"}],"mark":{"type":"rule","color":"black","strokeWidth":2},"encoding":{"x2":{"field":"x2"},"y2":{"field":"y2"}}},
     {"data":{"name":"mc"},"transform":[{"filter":"datum.m=='o'"}],"mark":{"type":"point","shape":"circle","filled":false,"color":"black","strokeWidth":3,"size":144,"opacity":1}}
    ]},
   {"data":{"name":"mc"},"transform":[{"filter":"datum.m=='t'"}],"mark":{"type":"text","align":"left","baseline":"alphabetic","fontSize":31,"color":"black"},
    "encoding":{"x":{"field":"x","type":"quantitative","scale":{"domain":[-5.9,5.9],"nice":false,"zero":false},"axis":{"orient":"top","values":[-4,0,4],"labels":false,"title":null}},"y":{"field":"y","type":"quantitative","scale":{"domain":[-5.9,5.9],"nice":false,"zero":false},"axis":{"orient":"right","values":[-4,0,4],"labels":false,"title":null}},"text":{"field":"t"}}}
  ],
  "resolve":{"axis":{"x":"independent","y":"independent"}}},
 {"width":176,"height":175.5,
  "layer":[
   {"data":{"name":"hc"},"layer":[
     {"mark":{"type":"rect","binSpacing":0,"clip":true,"strokeWidth":0.6},"encoding":{
       "x":{"field":"x","type":"quantitative","bin":{"step":1,"extent":[-6,6]},"scale":{"domain":[-5.9,5.9],"nice":false,"zero":false},"axis":{"values":[-4,0,4],"title":"x"}},
       "y":{"field":"y","type":"quantitative","bin":{"step":1,"extent":[-6,6]},"scale":{"domain":[-5.9,5.9],"nice":false,"zero":false},"axis":{"values":[-4,0,4],"labels":false,"title":null}},
       "color":{"field":"v","type":"quantitative","scale":{"domain":[-3.1416,3.1416],"range":["#ffffff","#000000"],"interpolate":"rgb"},"legend":null},
       "stroke":{"field":"v","type":"quantitative","scale":{"domain":[-3.1416,3.1416],"range":["#ffffff","#000000"],"interpolate":"rgb"},"legend":null}}},
     {"mark":{"type":"rect","binSpacing":0,"clip":true,"opacity":0.5},"encoding":{
       "x":{"field":"x","type":"quantitative","bin":{"step":1,"extent":[-6.5,6.5],"nice":false},"axis":{"values":[-4,0,4],"title":"x"}},
       "y":{"field":"y","type":"quantitative","bin":{"step":1,"extent":[-6,6]},"axis":{"values":[-4,0,4],"labels":false,"title":null}},
       "color":{"field":"v","type":"quantitative","legend":null}}},
     {"mark":{"type":"rect","binSpacing":0,"clip":true,"opacity":0.3333},"encoding":{
       "x":{"field":"x","type":"quantitative","bin":{"step":1,"extent":[-6,6]},"axis":{"values":[-4,0,4],"title":"x"}},
       "y":{"field":"y","type":"quantitative","bin":{"step":1,"extent":[-6.5,6.5],"nice":false},"axis":{"values":[-4,0,4],"labels":false,"title":null}},
       "color":{"field":"v","type":"quantitative","legend":null}}},
     {"mark":{"type":"rect","binSpacing":0,"clip":true,"opacity":0.25},"encoding":{
       "x":{"field":"x","type":"quantitative","bin":{"step":1,"extent":[-6.5,6.5],"nice":false},"axis":{"values":[-4,0,4],"title":"x"}},
       "y":{"field":"y","type":"quantitative","bin":{"step":1,"extent":[-6.5,6.5],"nice":false},"axis":{"values":[-4,0,4],"labels":false,"title":null}},
       "color":{"field":"v","type":"quantitative","legend":null}}}
   ]},
   {"data":{"name":"pc"},"mark":{"type":"area","clip":true,"opacity":1},
    "encoding":{"x":{"field":"x","type":"quantitative","axis":{"orient":"top","values":[-4,0,4],"labels":false,"title":null}},"y":{"field":"y","type":"quantitative","axis":{"orient":"right","values":[-4,0,4],"labels":false,"title":null}},"y2":{"field":"y2"},"color":{"field":"v","type":"quantitative"},"detail":{"field":"s"}}}
  ],
  "resolve":{"axis":{"x":"independent","y":"independent"}}}
 ],
 "columns":2,"spacing":0,"bounds":"flush"},
{"width":88.5,"height":526.5,
 "view":{"stroke":null},
 "data":{"values":[{"lo":-3.1416,"hi":3.1416,"t":"Phase"}]},
 "layer":[
  {"mark":{"type":"rect","stroke":"black","strokeWidth":1,"fill":{"gradient":"linear","x1":0,"y1":1,"x2":0,"y2":0,"stops":[{"offset":0,"color":"#ffffff"},{"offset":1,"color":"#000000"}]}},
   "encoding":{
    "x":{"datum":0,"type":"quantitative","scale":{"domain":[0,1],"nice":false,"zero":false},"axis":null},
    "x2":{"datum":1},
    "y":{"field":"lo","type":"quantitative","scale":{"domain":[-3.1416,3.7006],"nice":false,"zero":false},"axis":{"orient":"right","values":[-3.1416,-1.5708,0,1.5708,3.1416],"labelExpr":"datum.value > 3 ? 'π' : datum.value > 1 ? 'π/2' : datum.value < -3 ? '−π' : datum.value < -1 ? '−π/2' : '0'","title":null,"labelPadding":12}},
    "y2":{"field":"hi"}}},
  {"mark":{"type":"text","align":"left","baseline":"alphabetic","fontSize":31,"color":"black"},
   "encoding":{"x":{"datum":0,"type":"quantitative","axis":null},"y":{"datum":3.3,"type":"quantitative","axis":{"orient":"left","values":[-3.1416,-1.5708,0,1.5708,3.1416],"labels":false,"title":null}},"text":{"field":"t"}}}
 ],
 "resolve":{"axis":{"y":"independent"}}}
],
"spacing":35
}
